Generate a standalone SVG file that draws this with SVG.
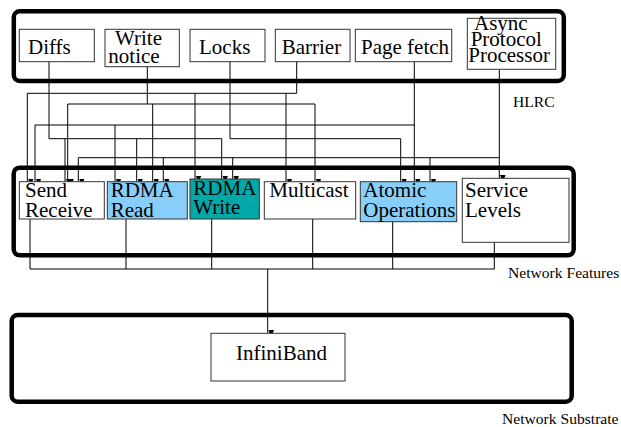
<svg xmlns="http://www.w3.org/2000/svg" width="621" height="427" viewBox="0 0 621 427">
<style>
.grp{fill:none;stroke:#000;stroke-width:4.5}
.box{stroke:#333;stroke-width:1}
.t{font-family:"Liberation Serif","Times New Roman",serif;font-size:21px;fill:#000}
.lbl{font-family:"Liberation Serif","Times New Roman",serif;font-size:15.6px;fill:#000}
.w{fill:none;stroke:#000;stroke-width:1}
.a{fill:none;stroke:#000;stroke-width:1;marker-end:url(#ah)}
</style>
<defs>
<marker id="ah" markerUnits="userSpaceOnUse" markerWidth="6" markerHeight="7" refX="2.5" refY="6" orient="auto-start-reverse" viewBox="0 0 5 6">
<path d="M0,0 L5,0 L2.5,6 Z" fill="#000" transform="rotate(-90 2.5 3)"/>
</marker>
</defs>
<rect width="621" height="427" fill="#fff"/>

<!-- groups -->
<g id="hlrc-group">
<rect class="grp" x="13.8" y="11.3" width="550" height="69.7" rx="6"/>
<text class="lbl" x="513" y="107">HLRC</text>
</g>
<g id="features-group">
<rect class="grp" x="13.7" y="167.7" width="560" height="87.6" rx="6"/>
<text class="lbl" x="508" y="278">Network Features</text>
</g>
<g id="substrate-group">
<rect class="grp" x="11.7" y="315" width="560" height="86.7" rx="6"/>
<text class="lbl" x="502" y="424">Network Substrate</text>
</g>

<!-- connectors -->
<g id="connectors">
<!-- Barrier -->
<polyline class="w" points="296.7,61.7 296.7,93.3 27.3,93.3"/>
<line class="a" x1="27.3" y1="93.3" x2="27.3" y2="181.7"/>
<line class="a" x1="195" y1="93.3" x2="195" y2="179"/>
<line class="a" x1="286" y1="93.3" x2="286" y2="181.7"/>
<!-- Write notice -->
<polyline class="w" points="147.3,66.7 147.3,104"/>
<line class="w" x1="67.7" y1="104" x2="315" y2="104"/>
<line class="a" x1="67.7" y1="104" x2="67.7" y2="181.7"/>
<line class="a" x1="152.7" y1="104" x2="152.7" y2="181.7"/>
<line class="a" x1="315" y1="104" x2="315" y2="181.7"/>
<!-- Page fetch -->
<line class="a" x1="414.3" y1="61.7" x2="414.3" y2="181.7"/>
<line class="w" x1="35" y1="125" x2="414.3" y2="125"/>
<line class="a" x1="35" y1="125" x2="35" y2="181.7"/>
<line class="a" x1="115" y1="125" x2="115" y2="181.7"/>
<!-- Diffs -->
<polyline class="w" points="49,61.7 49,138.7 221.7,138.7"/>
<line class="a" x1="65" y1="138.7" x2="65" y2="181.7"/>
<line class="a" x1="136.7" y1="138.7" x2="136.7" y2="181.7"/>
<line class="a" x1="221.7" y1="138.7" x2="221.7" y2="179"/>
<!-- Locks -->
<polyline class="a" points="230,61.7 230,138.7 400.7,138.7 400.7,181.7"/>
<!-- Async -->
<line class="a" x1="499.3" y1="69.3" x2="499.3" y2="178.3"/>
<line class="w" x1="78.3" y1="157.7" x2="499.3" y2="157.7"/>
<line class="a" x1="78.3" y1="157.7" x2="78.3" y2="181.7"/>
<line class="a" x1="163.3" y1="157.7" x2="163.3" y2="181.7"/>
<line class="a" x1="232.7" y1="157.7" x2="232.7" y2="179"/>
<line class="a" x1="430" y1="157.7" x2="430" y2="181.7"/>
<!-- features to substrate -->
<line class="w" x1="30" y1="219" x2="30" y2="269"/>
<line class="w" x1="126" y1="219" x2="126" y2="269"/>
<line class="w" x1="211.7" y1="219" x2="211.7" y2="269"/>
<line class="w" x1="312.7" y1="219" x2="312.7" y2="269"/>
<line class="w" x1="392.7" y1="221.7" x2="392.7" y2="269"/>
<line class="w" x1="494.3" y1="242.3" x2="494.3" y2="269"/>
<line class="w" x1="30" y1="269" x2="494.3" y2="269"/>
<line class="a" x1="267.7" y1="269" x2="267.7" y2="333.3"/>
</g>

<!-- HLRC nodes -->
<g id="diffs"><rect class="box" x="19.3" y="29.3" width="75" height="32.4" fill="#fff"/><text class="t" x="28" y="54">Diffs</text></g>
<g id="write-notice"><rect class="box" x="105" y="29.3" width="74.3" height="37.4" fill="#fff"/><text class="t" x="115" y="45">Write</text><text class="t" x="108.3" y="63">notice</text></g>
<g id="locks"><rect class="box" x="190" y="29.3" width="75" height="32.4" fill="#fff"/><text class="t" x="199" y="54">Locks</text></g>
<g id="barrier"><rect class="box" x="275.3" y="29.3" width="74.7" height="32.4" fill="#fff"/><text class="t" x="281.7" y="54">Barrier</text></g>
<g id="page-fetch"><rect class="box" x="355.3" y="29.3" width="96.4" height="32.4" fill="#fff"/><text class="t" x="361" y="54">Page fetch</text></g>
<g id="async"><rect class="box" x="467.3" y="18.3" width="88.4" height="51" fill="#fff"/><text class="t" x="474" y="29.5">Async</text><text class="t" x="470.7" y="45.7">Protocol</text><text class="t" x="468.3" y="61.7">Processor</text></g>

<!-- Feature nodes -->
<g id="send-receive"><rect class="box" x="19.3" y="181.7" width="85" height="37.3" fill="#fff"/><text class="t" x="25" y="197.3">Send</text><text class="t" x="25" y="216.7">Receive</text></g>
<g id="rdma-read"><rect class="box" x="107.3" y="181.7" width="80" height="37.3" fill="#87CEFA"/><text class="t" x="110.7" y="197.3">RDMA</text><text class="t" x="110.7" y="216.7">Read</text></g>
<g id="rdma-write"><rect class="box" x="190" y="179" width="69.3" height="40" fill="#00A8A8"/><text class="t" x="193.3" y="195">RDMA</text><text class="t" x="193.3" y="214.3">Write</text></g>
<g id="multicast"><rect class="box" x="264.3" y="181.7" width="91.4" height="37.3" fill="#fff"/><text class="t" x="269.3" y="197.3">Multicast</text></g>
<g id="atomic"><rect class="box" x="360.3" y="181.7" width="96.4" height="40" fill="#87CEFA"/><text class="t" x="363.3" y="197.3">Atomic</text><text class="t" x="363.3" y="216.7">Operations</text></g>
<g id="service-levels"><rect class="box" x="462.3" y="178.3" width="106.7" height="64" fill="#fff"/><text class="t" x="465" y="197.3">Service</text><text class="t" x="465" y="216.7">Levels</text></g>

<!-- Substrate node -->
<g id="infiniband"><rect class="box" x="211" y="333.3" width="134" height="47.7" fill="#fff"/><text class="t" x="236" y="360">InfiniBand</text></g>
</svg>
